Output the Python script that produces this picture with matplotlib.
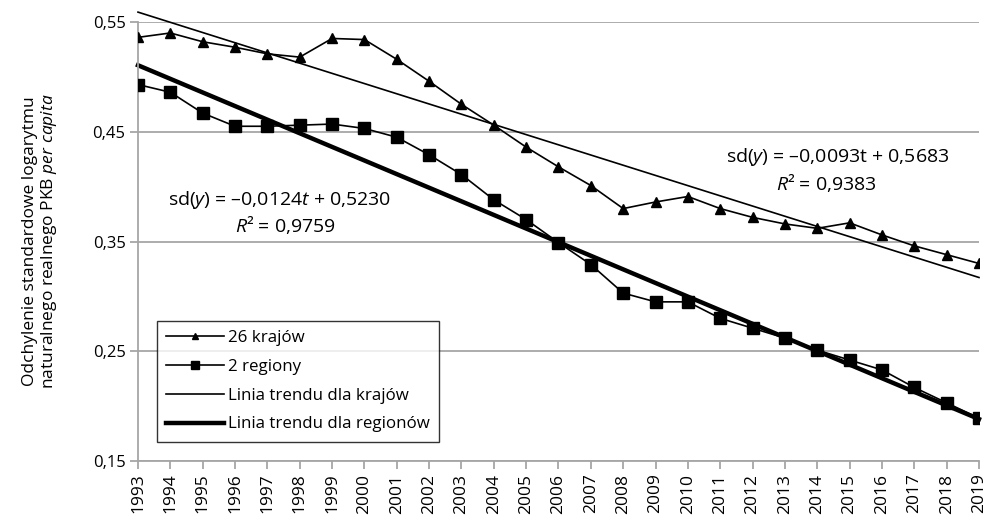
import matplotlib
matplotlib.use('Agg')
import matplotlib.pyplot as plt
import numpy as np

plt.rcParams['font.family'] = ['Open Sans', 'DejaVu Sans']
plt.rcParams['mathtext.fontset'] = 'custom'
plt.rcParams['mathtext.rm'] = 'Open Sans'
plt.rcParams['mathtext.it'] = 'Open Sans:italic'

# data
years = list(range(1993, 2020))
countries = [0.536, 0.540, 0.532, 0.527, 0.521, 0.518, 0.535, 0.534, 0.516, 0.496,
             0.475, 0.456, 0.436, 0.418, 0.401, 0.380, 0.386, 0.391, 0.380, 0.372,
             0.366, 0.362, 0.367, 0.356, 0.346, 0.338, 0.330]
regions = [0.493, 0.486, 0.467, 0.455, 0.455, 0.456, 0.457, 0.453, 0.445, 0.429,
           0.411, 0.388, 0.370, 0.349, 0.329, 0.303, 0.295, 0.295, 0.280, 0.271,
           0.262, 0.251, 0.242, 0.233, 0.217, 0.203, 0.189]
# trend equations printed on the chart (slope, intercept), t = 1..27
trend_countries = (-0.0093, 0.5683)
trend_regions = (-0.0124, 0.5230)
yticks = [0.15, 0.25, 0.35, 0.45, 0.55]
ytick_labels = ['0,15', '0,25', '0,35', '0,45', '0,55']

t = np.arange(1, len(years) + 1)
x = np.array(years)

W, H = 990, 524
fig = plt.figure(figsize=(W/100, H/100), dpi=100)
ax = fig.add_axes([138/W, 63/H, (979-138)/W, (461-22)/H])

grey = '#a6a6a6'
for yv in yticks:
    ax.axhline(yv, color=grey, lw=1.3, zorder=0)

ax.plot(x, countries, color='black', lw=1.2, marker='^', ms=7, label='26 krajów', zorder=3)
ax.plot(x, regions, color='black', lw=1.2, marker='s', ms=9, label='2 regiony', zorder=3)
ax.plot(x, trend_countries[0]*t + trend_countries[1], color='black', lw=1.2,
        label='Linia trendu dla krajów', clip_on=False, zorder=2)
ax.plot(x, trend_regions[0]*t + trend_regions[1], color='black', lw=3.2,
        label='Linia trendu dla regionów', clip_on=False, zorder=2)

ax.set_xlim(1993, 2019)
ax.set_ylim(0.15, 0.55)
ax.set_yticks(yticks)
ax.set_yticklabels(ytick_labels, fontsize=12)
ax.set_xticks(years)
ax.set_xticklabels([str(y) for y in years], rotation=90, fontsize=12.5)
ax.tick_params(axis='both', color=grey, width=1.3, length=6, direction='out', pad=3)
for s in ['top', 'right']:
    ax.spines[s].set_visible(False)
for s in ['left', 'bottom']:
    ax.spines[s].set_color(grey)
    ax.spines[s].set_linewidth(1.3)

ax.set_ylabel('Odchylenie standardowe logarytmu\nnaturalnego realnego PKB $\\mathit{per\\ capita}$',
              fontsize=12.5, labelpad=24, linespacing=1.1)

# trend equations, placed in figure pixels
for txt, px, py in [('sd($\\mathit{y}$) = –0,0093t + 0,5683', 838, 157),
                    ('$\\mathit{R}$² = 0,9383', 826, 183),
                    ('sd($\\mathit{y}$) = –0,0124$\\mathit{t}$ + 0,5230', 280, 200),
                    ('$\\mathit{R}$² = 0,9759', 285, 225)]:
    fig.text(px/W, 1 - py/H, txt, fontsize=14, ha='center', va='center')

leg = ax.legend(loc='upper left', bbox_to_anchor=((157-138)/841, 1 - (321-22)/439),
                fontsize=12.2, frameon=True, fancybox=False, edgecolor='black',
                handlelength=3.4, markerscale=0.7, labelspacing=0.75,
                borderpad=0.55, handletextpad=0.25, borderaxespad=0)
leg.get_frame().set_linewidth(1.0)

fig.savefig('out.png', dpi=100)
